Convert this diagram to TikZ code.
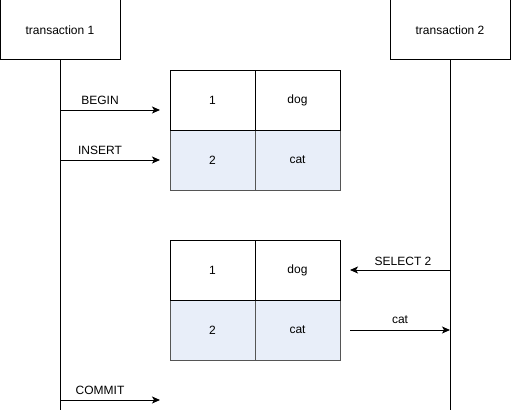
\documentclass[tikz,border=0pt]{standalone}
\usepackage{fontspec}
\setmainfont{Liberation Sans}
\usetikzlibrary{arrows.meta}
\definecolor{cellblue}{HTML}{E8EEF9}
\definecolor{cellline}{HTML}{555555}
\tikzset{
  actor/.style={draw=black, line width=1pt, minimum width=120pt, minimum height=60pt, inner sep=0pt, font=\fontsize{12}{14}\selectfont},
  cellw/.style={draw=black, line width=1pt, fill=white, minimum width=85pt, minimum height=60pt, inner sep=0pt, font=\fontsize{12}{14}\selectfont},
  cellb/.style={draw=cellline, line width=1pt, fill=cellblue, minimum width=85pt, minimum height=60pt, inner sep=0pt, font=\fontsize{12}{14}\selectfont},
  life/.style={line width=1pt},
  msg/.style={line width=1pt, -{Stealth[length=8pt,width=7pt,inset=2pt]}},
  lbl/.style={font=\fontsize{12}{14}\selectfont, inner sep=0pt},
}
\begin{document}
\begin{tikzpicture}[x=1pt,y=-1pt]
\useasboundingbox (0,0) rectangle (511,412);
% actors
\node[actor] (t1) at (60,30) {transaction 1};
\node[actor] (t2) at (450,30) {transaction 2};
\coordinate (t1end) at (60,410);
\coordinate (t2end) at (450,410);
\draw[life] (t1.south) -- (t1end);
\draw[life] (t2.south) -- (t2end);
% table 1
\node[cellb] (a21) at (212.5,160) {2};
\node[cellb] (a22) at (297.5,160) {cat};
\node[cellw] (a11) at (212.5,100) {1};
\node[cellw] (a12) at (297.5,100) {dog};
% table 2
\node[cellb] (b21) at (212.5,330) {2};
\node[cellb] (b22) at (297.5,330) {cat};
\node[cellw] (b11) at (212.5,270) {1};
\node[cellw] (b12) at (297.5,270) {dog};
% message points
\coordinate (s1) at (60,110);  \coordinate (e1) at (160,110);
\coordinate (s2) at (60,160);  \coordinate (e2) at (160,160);
\coordinate (s3) at (450,270); \coordinate (e3) at (350,270);
\coordinate (s4) at (350,330); \coordinate (e4) at (450,330);
\coordinate (s5) at (60,400);  \coordinate (e5) at (160,400);
\draw[msg] (s1) -- (e1);
\draw[msg] (s2) -- (e2);
\draw[msg] (s3) -- (e3);
\draw[msg] (s4) -- (e4);
\draw[msg] (s5) -- (e5);
\node[lbl] (l1) at (100,100) {BEGIN};
\node[lbl] (l2) at (100,150) {INSERT};
\node[lbl] (l3) at (403,261) {SELECT 2};
\node[lbl] (l4) at (400,320) {cat};
\node[lbl] (l5) at (100,390) {COMMIT};
\end{tikzpicture}
\end{document}
